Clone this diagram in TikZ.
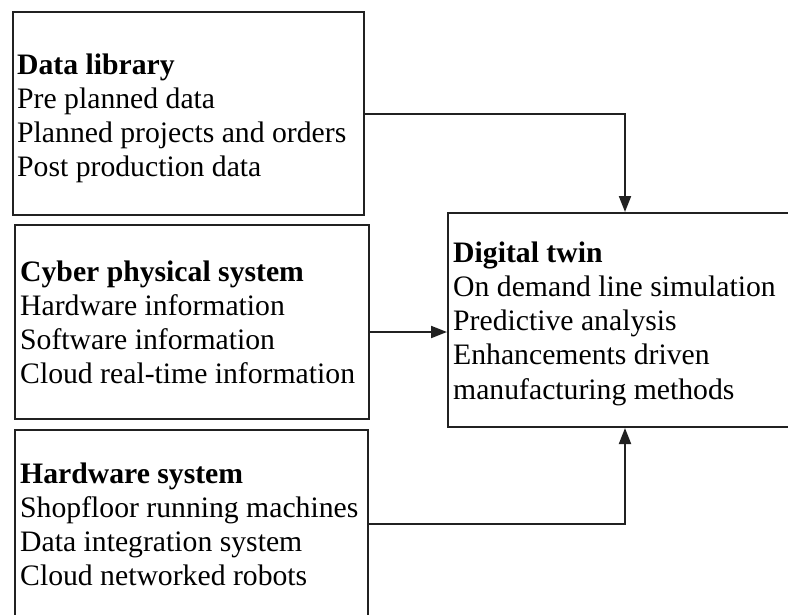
\documentclass[tikz,border=0pt]{standalone}
\usepackage{fontspec}
\setmainfont{Liberation Serif}
\usetikzlibrary{arrows.meta}
\begin{document}
\begin{tikzpicture}[x=1pt,y=-1pt,
  box/.style={draw=black!87, line width=2pt, rectangle, inner sep=0pt},
  txt/.style={anchor=base west, inner sep=0pt, font=\fontsize{29.7}{34.3}\selectfont},
  arr/.style={draw=black!87, line width=2pt, -{Triangle[width=12pt,length=16pt]}}]
\useasboundingbox (0,0) rectangle (788,614);
\begin{scope}
\clip (0,0) rectangle (788,614);
% the three source blocks on the left
\node[box, minimum width=351pt, minimum height=203pt] (lib) at (188.5,113.5) {};
\node[box, minimum width=354pt, minimum height=194pt] (cps) at (192,322) {};
\node[box, minimum width=353pt, minimum height=187pt] (hw) at (191.5,523.5) {};
% the target block on the right
\node[box, minimum width=354pt, minimum height=214pt] (dt) at (625,320) {};

\node[txt] (libtxt) at (17,74) {\begin{tabular}[t]{@{}l@{}}\textbf{Data library}\\Pre planned data\\Planned projects and orders\\Post production data\end{tabular}};
\node[txt] (cpstxt) at (20,281) {\begin{tabular}[t]{@{}l@{}}\textbf{Cyber physical system}\\Hardware information\\Software information\\Cloud real-time information\end{tabular}};
\node[txt] (hwtxt) at (20,483) {\begin{tabular}[t]{@{}l@{}}\textbf{Hardware system}\\Shopfloor running machines\\Data integration system\\Cloud networked robots\end{tabular}};
\node[txt] (dttxt) at (453,262) {\begin{tabular}[t]{@{}l@{}}\textbf{Digital twin}\\On demand line simulation\\Predictive analysis\\Enhancements driven\\manufacturing methods\end{tabular}};

% connectors
\draw[arr] (lib.east) -| (dt.north);
\draw[arr] ([yshift=-10pt]cps.east) -- ([yshift=-10pt]cps.east -| dt.west);
\draw[arr] (hw.east) -| (dt.south);
\end{scope}
\end{tikzpicture}
\end{document}
